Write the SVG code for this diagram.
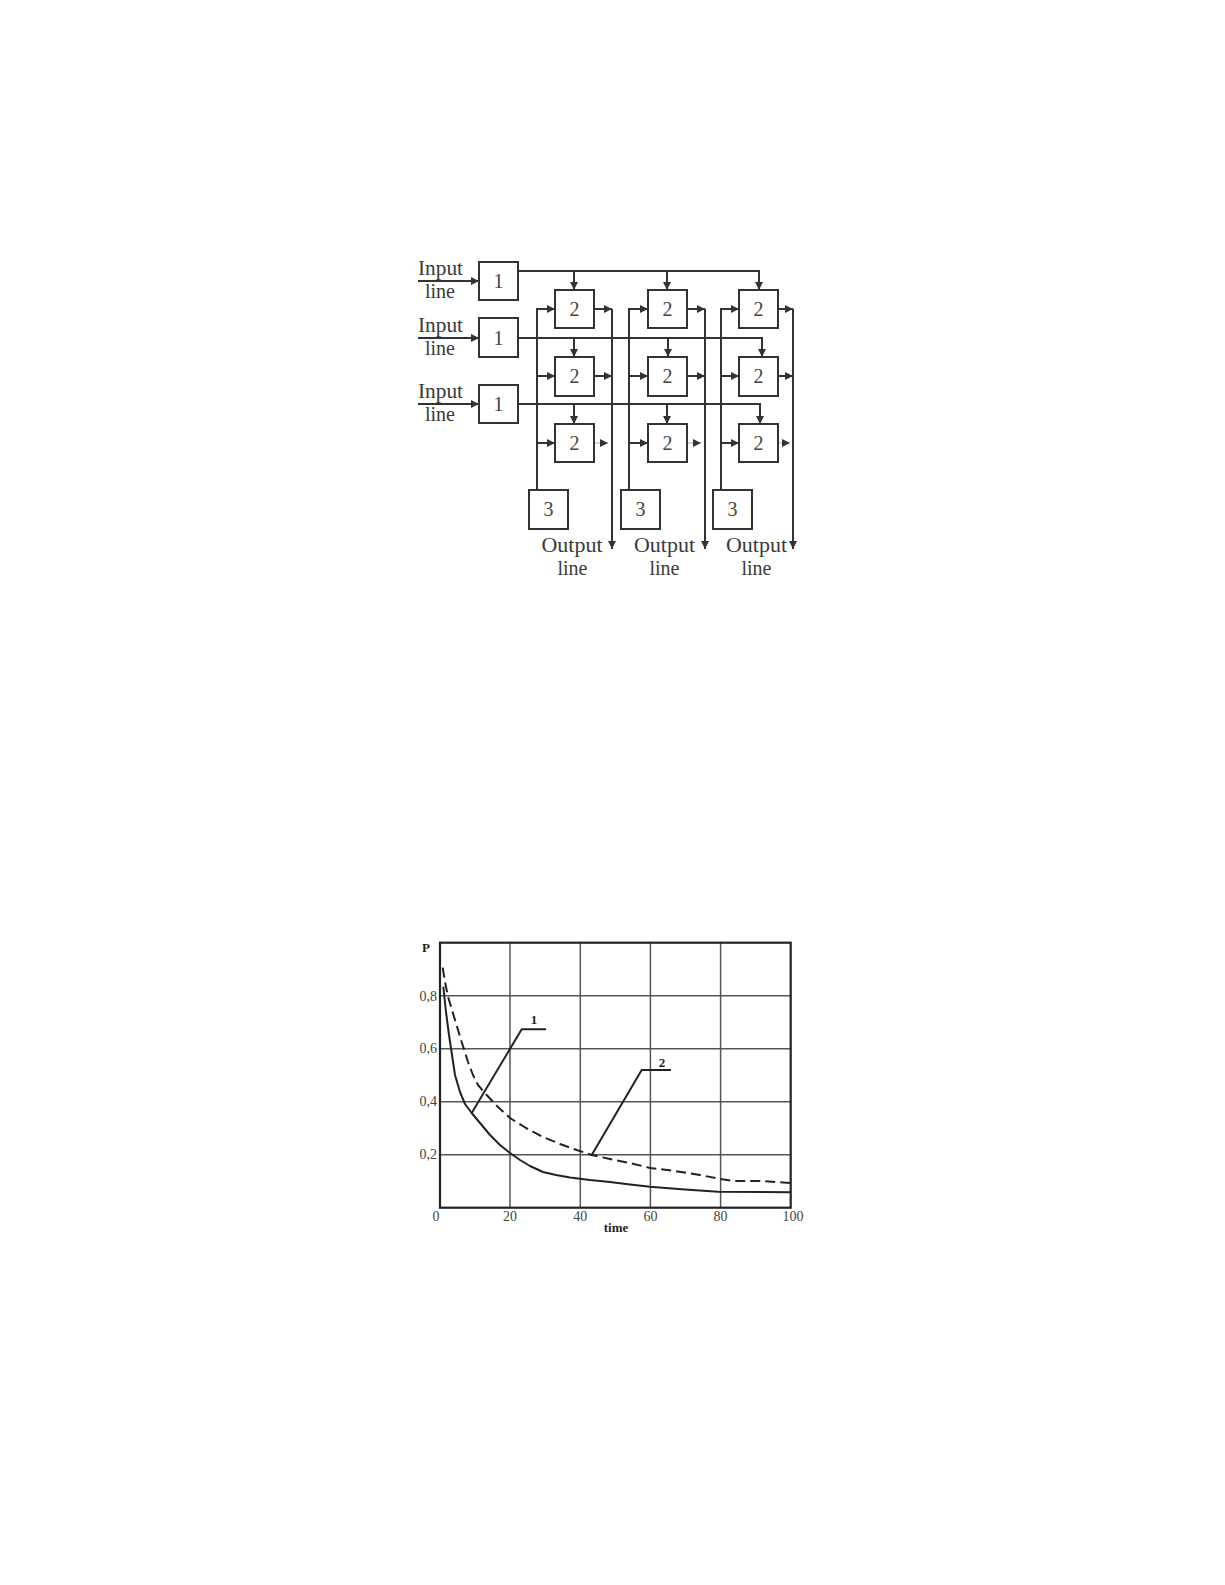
<svg xmlns="http://www.w3.org/2000/svg" width="1225" height="1585" viewBox="0 0 1225 1585">
<style>
.box{fill:#fff;stroke:#333;stroke-width:2}
.ln{fill:none;stroke:#333;stroke-width:2}
.faint{fill:none;stroke:#c8c8c8;stroke-width:1.5}
.lbl{font-family:"Liberation Serif",serif;font-size:20px;fill:#3a3a3a}
.num{font-family:"Liberation Serif",serif;font-size:20px;fill:#444;text-anchor:middle}
.grid{fill:none;stroke:#555;stroke-width:1.5}
.frame{fill:none;stroke:#222;stroke-width:2.2}
.tick{font-family:"Liberation Serif",serif;font-size:14px;fill:#444}
.bold{font-family:"Liberation Serif",serif;font-size:13px;font-weight:bold;fill:#222}
.curve{fill:none;stroke:#222;stroke-width:2;stroke-linejoin:round}
</style>
<defs>
<marker id="ah" viewBox="0 0 10 10" refX="10" refY="5" markerWidth="8" markerHeight="8" markerUnits="userSpaceOnUse" orient="auto">
<path d="M0,0 L10,5 L0,10 z" fill="#333"/>
</marker>
</defs>
<rect width="1225" height="1585" fill="#fff"/>

<!-- connectors -->
<g id="connectors">
  <!-- input lines -->
  <line class="ln" x1="418" y1="281" x2="479" y2="281" marker-end="url(#ah)"/>
  <line class="ln" x1="418" y1="338" x2="479" y2="338" marker-end="url(#ah)"/>
  <line class="ln" x1="418" y1="404" x2="479" y2="404" marker-end="url(#ah)"/>
  <!-- distribution rows -->
  <polyline class="ln" points="518,271 759,271 759,290" marker-end="url(#ah)"/>
  <line class="ln" x1="574" y1="271" x2="574" y2="290" marker-end="url(#ah)"/>
  <line class="ln" x1="667" y1="271" x2="667" y2="290" marker-end="url(#ah)"/>
  <polyline class="ln" points="518,338 762,338 762,357" marker-end="url(#ah)"/>
  <line class="ln" x1="574" y1="338" x2="574" y2="357" marker-end="url(#ah)"/>
  <line class="ln" x1="668" y1="338" x2="668" y2="357" marker-end="url(#ah)"/>
  <polyline class="ln" points="518,404 760,404 760,424" marker-end="url(#ah)"/>
  <line class="ln" x1="574" y1="404" x2="574" y2="424" marker-end="url(#ah)"/>
  <line class="ln" x1="667" y1="404" x2="667" y2="424" marker-end="url(#ah)"/>
  <!-- column control buses from box 3 -->
  <polyline class="ln" points="537,490 537,309 555,309" marker-end="url(#ah)"/>
  <line class="ln" x1="537" y1="376" x2="555" y2="376" marker-end="url(#ah)"/>
  <line class="ln" x1="537" y1="443" x2="555" y2="443" marker-end="url(#ah)"/>
  <polyline class="ln" points="629,490 629,309 648,309" marker-end="url(#ah)"/>
  <line class="ln" x1="629" y1="376" x2="648" y2="376" marker-end="url(#ah)"/>
  <line class="ln" x1="629" y1="443" x2="648" y2="443" marker-end="url(#ah)"/>
  <polyline class="ln" points="721,490 721,309 739,309" marker-end="url(#ah)"/>
  <line class="ln" x1="721" y1="376" x2="739" y2="376" marker-end="url(#ah)"/>
  <line class="ln" x1="721" y1="443" x2="739" y2="443" marker-end="url(#ah)"/>
  <!-- output buses -->
  <line class="ln" x1="612" y1="309" x2="612" y2="549" marker-end="url(#ah)"/>
  <line class="ln" x1="705" y1="309" x2="705" y2="549" marker-end="url(#ah)"/>
  <line class="ln" x1="793" y1="309" x2="793" y2="549" marker-end="url(#ah)"/>
  <line class="ln" x1="594" y1="309" x2="612" y2="309" marker-end="url(#ah)"/>
  <line class="ln" x1="594" y1="376" x2="612" y2="376" marker-end="url(#ah)"/>
  <line class="faint" x1="594" y1="443" x2="608" y2="443" marker-end="url(#ah)"/>
  <line class="ln" x1="687" y1="309" x2="705" y2="309" marker-end="url(#ah)"/>
  <line class="ln" x1="687" y1="376" x2="705" y2="376" marker-end="url(#ah)"/>
  <line class="faint" x1="687" y1="443" x2="701" y2="443" marker-end="url(#ah)"/>
  <line class="ln" x1="778" y1="309" x2="793" y2="309" marker-end="url(#ah)"/>
  <line class="ln" x1="778" y1="376" x2="793" y2="376" marker-end="url(#ah)"/>
  <line class="faint" x1="778" y1="443" x2="790" y2="443" marker-end="url(#ah)"/>
</g>

<!-- input labels -->
<g id="input-labels">
  <text class="lbl" x="418" y="275" textLength="45" lengthAdjust="spacingAndGlyphs">Input</text>
  <text class="lbl" x="425" y="298">line</text>
  <text class="lbl" x="418" y="332" textLength="45" lengthAdjust="spacingAndGlyphs">Input</text>
  <text class="lbl" x="425" y="355">line</text>
  <text class="lbl" x="418" y="398" textLength="45" lengthAdjust="spacingAndGlyphs">Input</text>
  <text class="lbl" x="425" y="421">line</text>
</g>

<!-- nodes: box 1 -->
<g id="box1-r1"><rect class="box" x="479" y="262" width="39" height="38"/><text class="num" x="498.5" y="288">1</text></g>
<g id="box1-r2"><rect class="box" x="479" y="318" width="39" height="39"/><text class="num" x="498.5" y="345">1</text></g>
<g id="box1-r3"><rect class="box" x="479" y="385" width="39" height="38"/><text class="num" x="498.5" y="411">1</text></g>

<!-- nodes: box 2 -->
<g id="box2-r1c1"><rect class="box" x="555" y="290" width="39" height="38"/><text class="num" x="574.5" y="316">2</text></g>
<g id="box2-r1c2"><rect class="box" x="648" y="290" width="39" height="38"/><text class="num" x="667.5" y="316">2</text></g>
<g id="box2-r1c3"><rect class="box" x="739" y="290" width="39" height="38"/><text class="num" x="758.5" y="316">2</text></g>
<g id="box2-r2c1"><rect class="box" x="555" y="357" width="39" height="39"/><text class="num" x="574.5" y="383">2</text></g>
<g id="box2-r2c2"><rect class="box" x="648" y="357" width="39" height="39"/><text class="num" x="667.5" y="383">2</text></g>
<g id="box2-r2c3"><rect class="box" x="739" y="357" width="39" height="39"/><text class="num" x="758.5" y="383">2</text></g>
<g id="box2-r3c1"><rect class="box" x="555" y="424" width="39" height="38"/><text class="num" x="574.5" y="450">2</text></g>
<g id="box2-r3c2"><rect class="box" x="648" y="424" width="39" height="38"/><text class="num" x="667.5" y="450">2</text></g>
<g id="box2-r3c3"><rect class="box" x="739" y="424" width="39" height="38"/><text class="num" x="758.5" y="450">2</text></g>

<!-- nodes: box 3 -->
<g id="box3-c1"><rect class="box" x="529" y="490" width="39" height="39"/><text class="num" x="548.5" y="516">3</text></g>
<g id="box3-c2"><rect class="box" x="621" y="490" width="39" height="39"/><text class="num" x="640.5" y="516">3</text></g>
<g id="box3-c3"><rect class="box" x="713" y="490" width="39" height="39"/><text class="num" x="732.5" y="516">3</text></g>

<!-- output labels -->
<g id="output-labels">
  <text class="lbl" x="572" y="552" text-anchor="middle" textLength="61" lengthAdjust="spacingAndGlyphs">Output</text>
  <text class="lbl" x="572.5" y="575" text-anchor="middle">line</text>
  <text class="lbl" x="664.5" y="552" text-anchor="middle" textLength="61" lengthAdjust="spacingAndGlyphs">Output</text>
  <text class="lbl" x="664.5" y="575" text-anchor="middle">line</text>
  <text class="lbl" x="756.5" y="552" text-anchor="middle" textLength="61" lengthAdjust="spacingAndGlyphs">Output</text>
  <text class="lbl" x="756.5" y="575" text-anchor="middle">line</text>
</g>

<!-- chart -->
<g id="chart">
  <g id="grid">
    <line class="grid" x1="510" y1="943" x2="510" y2="1208"/>
    <line class="grid" x1="580.3" y1="943" x2="580.3" y2="1208"/>
    <line class="grid" x1="650.4" y1="943" x2="650.4" y2="1208"/>
    <line class="grid" x1="720.6" y1="943" x2="720.6" y2="1208"/>
    <line class="grid" x1="440" y1="995.7" x2="790.7" y2="995.7"/>
    <line class="grid" x1="440" y1="1048.7" x2="790.7" y2="1048.7"/>
    <line class="grid" x1="440" y1="1101.7" x2="790.7" y2="1101.7"/>
    <line class="grid" x1="440" y1="1154.7" x2="790.7" y2="1154.7"/>
    <rect class="frame" x="440" y="942.7" width="350.7" height="265"/>
  </g>
  <g id="axis-labels">
    <text class="bold" x="422" y="952">P</text>
    <text class="tick" x="437" y="1001" text-anchor="end">0,8</text>
    <text class="tick" x="437" y="1053" text-anchor="end">0,6</text>
    <text class="tick" x="437" y="1106" text-anchor="end">0,4</text>
    <text class="tick" x="437" y="1159" text-anchor="end">0,2</text>
    <text class="tick" x="436" y="1221" text-anchor="middle">0</text>
    <text class="tick" x="510" y="1221" text-anchor="middle">20</text>
    <text class="tick" x="580.3" y="1221" text-anchor="middle">40</text>
    <text class="tick" x="650.4" y="1221" text-anchor="middle">60</text>
    <text class="tick" x="720.6" y="1221" text-anchor="middle">80</text>
    <text class="tick" x="793" y="1221" text-anchor="middle">100</text>
    <text class="bold" x="616" y="1232" text-anchor="middle">time</text>
  </g>
  <g id="curve-1">
    <polyline class="curve" points="443.3,986.7 446,1012 449,1035 452,1055 455,1075 460,1092 465,1104 471.7,1113 480,1123 490,1135 500,1145 509.3,1152.5 520,1160 530,1166 543,1172 556,1175 570,1177.5 590,1180 610,1182 630,1184.5 650,1186.7 685,1189.5 718,1191.7 790.7,1192.3"/>
  </g>
  <g id="curve-2">
    <polyline class="curve" stroke-dasharray="10,5" points="442.7,967.7 445,982 448,996.7 455,1020 462,1043 468,1062 473,1075 478,1085 486.7,1095 498,1107 510,1118 526,1128 543,1137 560,1144 576.7,1150 591.7,1155 610,1159 630,1163 650,1168 675,1171 700,1175 720,1179 733,1181 760,1181 790.7,1183"/>
  </g>
  <g id="leader-1">
    <polyline class="curve" points="471.7,1113 521.7,1029.3 546,1029.3"/>
    <text class="bold" x="534" y="1024" text-anchor="middle">1</text>
  </g>
  <g id="leader-2">
    <polyline class="curve" points="591.7,1155 641.7,1070 671,1070"/>
    <text class="bold" x="662" y="1067" text-anchor="middle">2</text>
  </g>
</g>
</svg>
